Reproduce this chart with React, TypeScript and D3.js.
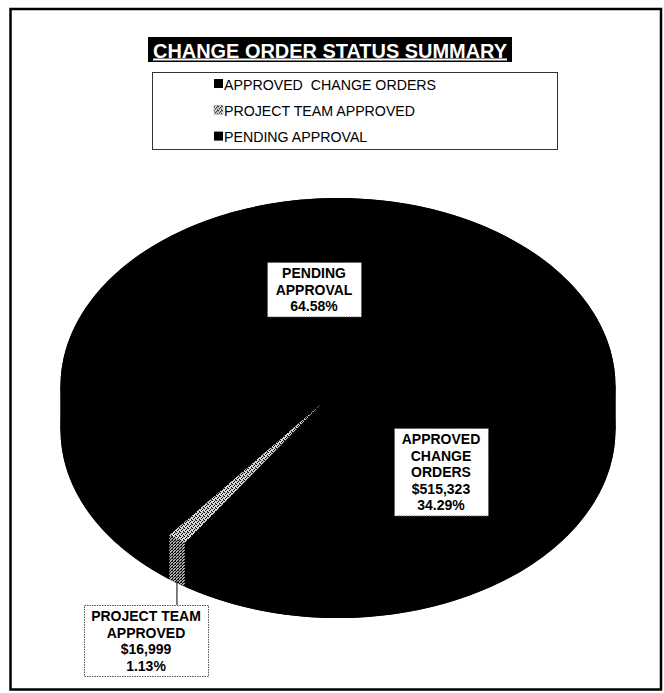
import * as d3 from "d3";
import React from "react";

// slice data (Excel order: approved first, clockwise from 3 o'clock)
const categories = ["APPROVED  CHANGE ORDERS", "PROJECT TEAM APPROVED", "PENDING APPROVAL"];
const percents = [34.29, 1.13, 64.58];
const amounts = ["$515,323", "$16,999", ""];
const sliceNames = [["APPROVED", "CHANGE", "ORDERS"], ["PROJECT TEAM", "APPROVED"], ["PENDING", "APPROVAL"]];
const title = "CHANGE ORDER STATUS SUMMARY";

const W = 664;
const H = 693;
const FONT = "'Liberation Sans', Arial, Helvetica, sans-serif";

// 3D pie geometry
const cx = 338;
const cy = 386;
const rx = 277.5;
const ry = 188;
const depth = 44;
const apex = { x: 322, y: 403 }; // perspective centre of the top face

// label boxes (left, top, width)
const labelBoxes = [
  { x: 394, y: 428, w: 94 },
  { x: 84, y: 605, w: 124 },
  { x: 267, y: 262, w: 94 },
];

const fills = ["#000", "url(#ditherTop)", "#000"];
const sideFills = ["#000", "url(#ditherSide)", "#000"];

const pt = (a: number, dy = 0) => [cx + rx * Math.sin(a), cy - ry * Math.cos(a) + dy];

export default function App() {
  const pie = d3
    .pie<number>()
    .sort(null)
    .value((d) => d)
    .startAngle(Math.PI / 2)
    .endAngle(Math.PI / 2 + 2 * Math.PI);
  const arcs = pie(percents);

  const topPath = (a0: number, a1: number) => {
    const [x0, y0] = pt(a0);
    const [x1, y1] = pt(a1);
    const large = a1 - a0 > Math.PI ? 1 : 0;
    return `M${apex.x},${apex.y}L${x0},${y0}A${rx},${ry} 0 ${large} 1 ${x1},${y1}Z`;
  };

  const sidePath = (a0: number, a1: number) => {
    const b0 = Math.max(a0, Math.PI / 2);
    const b1 = Math.min(a1, (3 * Math.PI) / 2);
    if (b1 <= b0) return null;
    const [x0, y0] = pt(b0);
    const [x1, y1] = pt(b1);
    return `M${x0},${y0}A${rx},${ry} 0 0 1 ${x1},${y1}L${x1},${y1 + depth}A${rx},${ry} 0 0 0 ${x0},${y0 + depth}Z`;
  };

  const fmtPct = (v: number) => `${v.toFixed(2)}%`;
  const lineH = 16.5;

  // leader for the thin slice: from bottom of its side face to its label
  const thin = arcs[1];
  const [lx, ly] = pt((thin.startAngle + thin.endAngle) / 2, depth);

  return (
    <div style={{ position: "absolute", left: 0, top: 0 }}>
      <svg width={W} height={H} viewBox={`0 0 ${W} ${H}`} style={{ display: "block", background: "#fff" }}>
        <defs>
          <pattern id="ditherTop" width={4} height={4} patternUnits="userSpaceOnUse">
            <rect width={4} height={4} fill="#d6d6d6" />
            <rect x={0} y={0} width={1} height={1} fill="#000" />
            <rect x={2} y={1} width={1} height={1} fill="#000" />
            <rect x={1} y={2} width={1} height={1} fill="#000" />
            <rect x={3} y={3} width={1} height={1} fill="#000" />
            <rect x={3} y={0} width={1} height={1} fill="#666" />
          </pattern>
          <pattern id="ditherSide" width={3} height={3} patternUnits="userSpaceOnUse">
            <rect width={3} height={3} fill="#aaa" />
            <rect x={0} y={0} width={1} height={1} fill="#000" />
            <rect x={2} y={1} width={1} height={1} fill="#000" />
            <rect x={1} y={2} width={1} height={1} fill="#000" />
            <rect x={1} y={0} width={1} height={1} fill="#222" />
          </pattern>
        </defs>

        {/* outer frame */}
        <rect x={10.5} y={9} width={650.5} height={680.5} fill="none" stroke="#000" strokeWidth={2.5} />

        {/* title */}
        <rect x={148} y={37} width={364} height={25} fill="#000" />
        <text
          x={330}
          y={57.5}
          textAnchor="middle"
          fill="#fff"
          fontFamily={FONT}
          fontWeight="bold"
          fontSize={20}
          textDecoration="underline"
          textLength={354}
          lengthAdjust="spacingAndGlyphs"
        >
          {title}
        </text>

        {/* legend */}
        <rect x={152.5} y={72.5} width={405} height={77} fill="#fff" stroke="#333" strokeWidth={1} />
        {categories.map((c, i) => (
          <g key={c} transform={`translate(214,${84 + i * 26.3})`}>
            <rect x={0} y={-5} width={9} height={9} fill={fills[i]} stroke={i === 1 ? "#999" : "none"} strokeWidth={0.5} />
            <text x={10} y={5.5} fontFamily={FONT} fontSize={14.2} fill="#000" style={{ whiteSpace: "pre" }}>
              {c}
            </text>
          </g>
        ))}

        {/* pie base (side + top) */}
        <ellipse cx={cx} cy={cy + depth} rx={rx} ry={ry} fill="#000" />
        <rect x={cx - rx} y={cy} width={rx * 2} height={depth} fill="#000" />
        <ellipse cx={cx} cy={cy} rx={rx} ry={ry} fill="#000" />

        {arcs.map((a, i) => {
          const d = sidePath(a.startAngle, a.endAngle);
          return d ? <path key={`s${i}`} d={d} fill={sideFills[i]} /> : null;
        })}
        {arcs.map((a, i) => (
          <path key={`t${i}`} d={topPath(a.startAngle, a.endAngle)} fill={fills[i]} />
        ))}

        {/* leader line */}
        <line x1={lx} y1={ly - 2} x2={lx} y2={labelBoxes[1].y} stroke="#000" strokeWidth={1} />

        {/* data labels */}
        {arcs.map((a, i) => {
          const lines = [...sliceNames[i]];
          if (amounts[i]) lines.push(amounts[i]);
          lines.push(fmtPct(percents[i]));
          const b = labelBoxes[i];
          const h = lines.length * lineH + 5;
          return (
            <g key={`l${i}`}>
              <rect x={b.x + 0.5} y={b.y + 0.5} width={b.w} height={h} fill="#fff" stroke="#555" strokeWidth={1} strokeDasharray="1.5 1" />
              {lines.map((t, j) => (
                <text
                  key={j}
                  x={b.x + b.w / 2}
                  y={b.y + 11 + j * lineH}
                  dy="0.36em"
                  textAnchor="middle"
                  fontFamily={FONT}
                  fontWeight="bold"
                  fontSize={14}
                  fill="#000"
                >
                  {t}
                </text>
              ))}
            </g>
          );
        })}
      </svg>
    </div>
  );
}
